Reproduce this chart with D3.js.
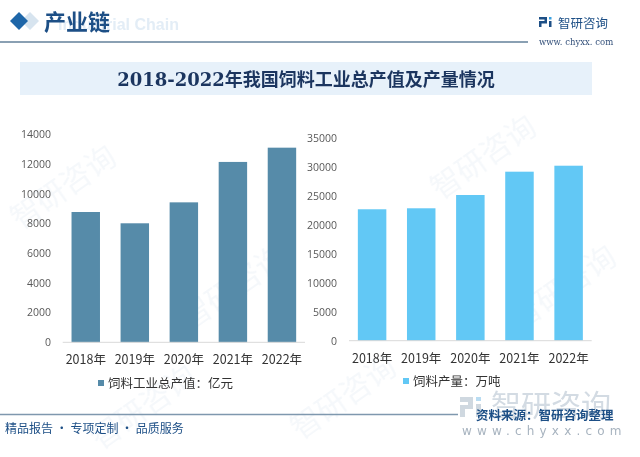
<!DOCTYPE html>
<html><head><meta charset="utf-8">
<script src="https://cdn.jsdelivr.net/npm/d3@7"></script>
<style>
html,body{margin:0;padding:0;background:#fff;}
svg{display:block;}
</style></head>
<body>
<svg id="c" width="640" height="457"></svg>
<script>
const years = ["2018年","2019年","2020年","2021年","2022年"];
const outputValue = [8770, 8010, 9420, 12140, 13100];   // 饲料工业总产值：亿元
const outputVolume = [22660, 22830, 25120, 29140, 30170]; // 饲料产量：万吨
const leftTicks = [0,2000,4000,6000,8000,10000,12000,14000];
const rightTicks = [0,5000,10000,15000,20000,25000,30000,35000];
const leftLegend = "饲料工业总产值：亿元";
const rightLegend = "饲料产量：万吨";
const chartTitle = "2018-2022年我国饲料工业总产值及产量情况";

const svg = d3.select("#c");
const CJK = "'Noto Sans CJK SC','Noto Sans',sans-serif";

// faint watermarks (kept inside the frame)
const wm = svg.append("g").attr("opacity",0.045).attr("fill","#1f5fa0");
[[20,230],[190,330],[440,200],[520,330],[300,440],[100,450]].forEach(([x,y])=>{
  wm.append("text").attr("x",x).attr("y",y).attr("transform",`rotate(-35,${x},${y})`)
    .attr("font-family",CJK).attr("font-size",30).text("智研咨询");
});

// header
svg.append("path").attr("d","M30,12 L39,21 L30,30 L21,21Z").attr("fill","#d7e4ef");
svg.append("path").attr("d","M19,12 L28,21 L19,30 L10,21Z").attr("fill","#1e66a8");
svg.append("text").attr("x",58).attr("y",30).attr("font-family","'Liberation Sans',Arial,sans-serif")
  .attr("font-weight","bold").attr("font-size",16).attr("fill","#e3edf6").text("Industrial Chain");
svg.append("text").attr("x",44).attr("y",30).attr("font-family",CJK).attr("font-weight","bold")
  .attr("font-size",22).attr("fill","#1d4f86").text("产业链");
svg.append("line").attr("x1",0).attr("x2",528).attr("y1",42).attr("y2",42)
  .attr("stroke","#8aa0b3").attr("stroke-width",2);
// header logo
const lg = svg.append("g").attr("fill","#1d4f86");
lg.append("rect").attr("x",539).attr("y",17).attr("width",8).attr("height",2.5);
lg.append("rect").attr("x",544.5).attr("y",17).attr("width",2.5).attr("height",6);
lg.append("rect").attr("x",539).attr("y",21).attr("width",8).attr("height",2.5);
lg.append("rect").attr("x",539).attr("y",21).attr("width",2.5).attr("height",6);
lg.append("rect").attr("x",549).attr("y",17).attr("width",2.5).attr("height",2.5).attr("fill","#3aa0e0");
lg.append("rect").attr("x",549).attr("y",21).attr("width",2.5).attr("height",6);
svg.append("text").attr("x",558).attr("y",28).attr("font-family",CJK).attr("font-size",12.5)
  .attr("fill","#1d4f86").text("智研咨询");
svg.append("text").attr("x",539).attr("y",45).attr("font-family","'DejaVu Serif',serif").attr("font-size",8.5)
  .attr("fill","#33507a").text("www. chyxx. com");

// title band
svg.append("rect").attr("x",20).attr("y",62).attr("width",572).attr("height",33).attr("fill","#e7f1fa");
svg.append("text").attr("x",306).attr("y",86).attr("text-anchor","middle")
  .attr("font-family","'DejaVu Serif','Noto Sans CJK SC',serif").attr("font-weight","bold")
  .attr("font-size",18).attr("fill","#1b355f").text(chartTitle);

function drawChart(cfg){
  const x = d3.scaleBand().domain(years).range(cfg.xr).paddingInner(0.42).paddingOuter(0.18);
  const y = d3.scaleLinear().domain([0, cfg.max]).range([cfg.y0, cfg.y1]);
  const g = svg.append("g");
  g.selectAll("rect.bar").data(cfg.values).join("rect").attr("class","bar")
    .attr("x",(d,i)=>x(years[i])).attr("width",x.bandwidth())
    .attr("y",d=>y(d)).attr("height",d=>y(0)-y(d)).attr("fill",cfg.color);
  g.append("line").attr("x1",cfg.xr[0]).attr("x2",cfg.xr[1]).attr("y1",y(0)).attr("y2",y(0))
    .attr("stroke","#d9d9d9").attr("stroke-width",1);
  const ya = g.append("g").attr("transform",`translate(${cfg.yLabX},0)`)
    .call(d3.axisLeft(y).tickValues(cfg.ticks).tickSize(0).tickPadding(0).tickFormat(d3.format("d")));
  ya.select(".domain").remove();
  ya.selectAll("text").attr("font-family","'Open Sans','DejaVu Sans',sans-serif").attr("font-size",10.5).attr("fill","#595959");
  const xa = g.append("g").attr("transform",`translate(0,${y(0)})`)
    .call(d3.axisBottom(x).tickSize(0).tickPadding(13));
  xa.select(".domain").remove();
  xa.selectAll("text").attr("font-family",CJK).attr("font-size",12.5).attr("fill","#333");
  // legend
  g.append("rect").attr("x",cfg.legX).attr("y",cfg.legY-3).attr("width",6).attr("height",6).attr("fill",cfg.color);
  g.append("text").attr("x",cfg.legX+10).attr("y",cfg.legY).attr("dy","0.36em")
    .attr("font-family",CJK).attr("font-size",12.5).attr("fill","#333").text(cfg.legend);
}

drawChart({xr:[62.7,305], y0:342.3, y1:134.3, max:14000, values:outputValue, ticks:leftTicks,
  color:"#568ba9", yLabX:51, legX:98, legY:383, legend:leftLegend});
drawChart({xr:[349,591.7], y0:340.7, y1:137.7, max:35000, values:outputVolume, ticks:rightTicks,
  color:"#62c8f5", yLabX:337, legX:403, legY:381, legend:rightLegend});

// footer
svg.append("line").attr("x1",0).attr("x2",458).attr("y1",414.5).attr("y2",414.5)
  .attr("stroke","#7f98ae").attr("stroke-width",1.5);
svg.append("text").attr("x",5).attr("y",433).attr("font-family",CJK).attr("font-size",12)
  .attr("fill","#1d4f86").text("精品报告 · 专项定制 · 品质服务");
const fl = svg.append("g").attr("fill","#cfd8e0");
fl.append("rect").attr("x",460).attr("y",397).attr("width",13).attr("height",5);
fl.append("rect").attr("x",468).attr("y",397).attr("width",5).attr("height",11);
fl.append("rect").attr("x",460).attr("y",405).attr("width",13).attr("height",4);
fl.append("rect").attr("x",460).attr("y",405).attr("width",5).attr("height",12);
fl.append("rect").attr("x",476).attr("y",397).attr("width",5).attr("height",4).attr("fill","#b9dcf2");
fl.append("rect").attr("x",476).attr("y",404).attr("width",5).attr("height",13);
svg.append("text").attr("x",491).attr("y",416).attr("font-family",CJK).attr("font-size",30)
  .attr("fill","#d3dbe3").text("智研咨询");
svg.append("text").attr("x",476).attr("y",420).attr("font-family",CJK).attr("font-weight","bold")
  .attr("font-size",12.5).attr("fill","#1d4f86").text("资料来源：智研咨询整理");
svg.append("text").attr("x",462).attr("y",435).attr("font-family","'DejaVu Sans',sans-serif")
  .attr("font-size",12).attr("letter-spacing",5.2).attr("fill","#a7b3bf").text("www.chyxx.com");
</script>
</body></html>
